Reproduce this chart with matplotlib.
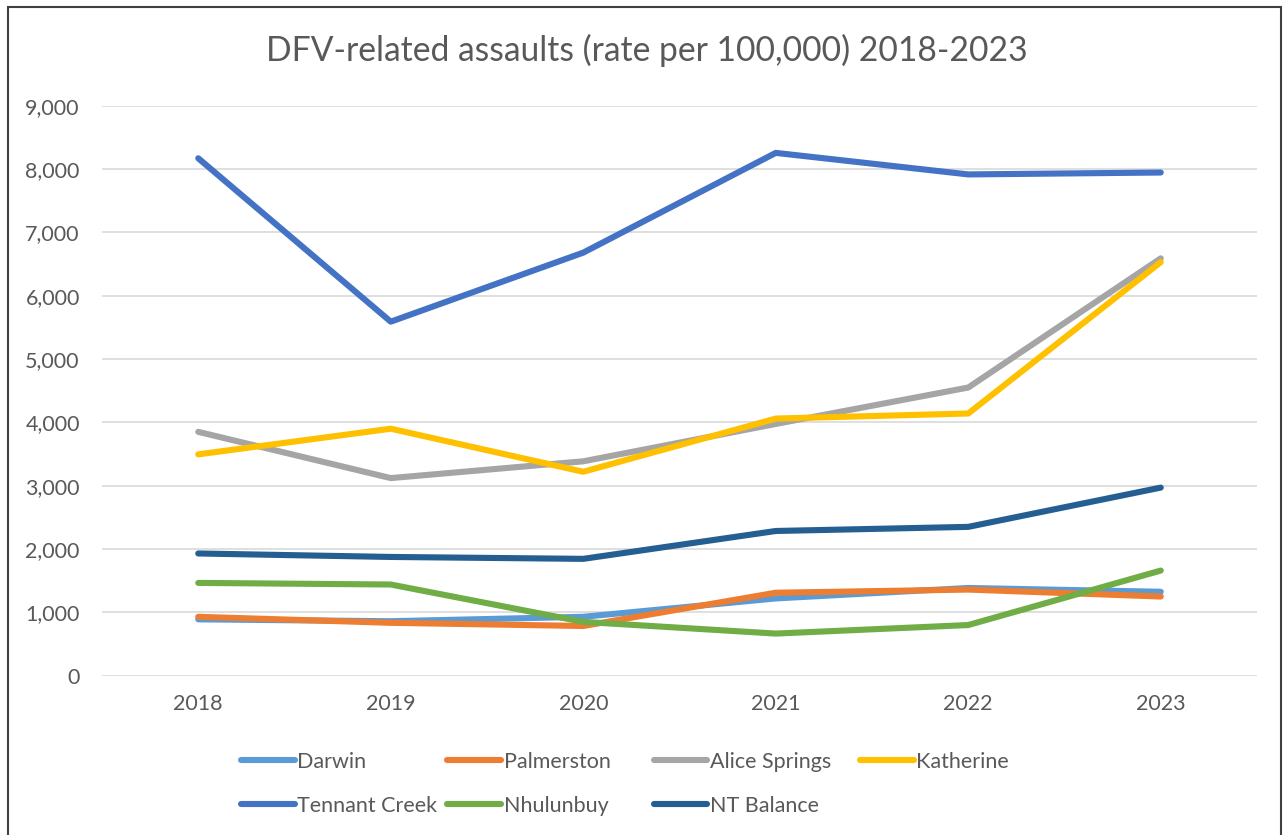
import numpy as np
import matplotlib
matplotlib.use('Agg')
import matplotlib.pyplot as plt
from matplotlib.lines import Line2D
from matplotlib.patches import Rectangle

plt.rcParams['font.family'] = ['Lato', 'DejaVu Sans']

years = ['2018', '2019', '2020', '2021', '2022', '2023']

# rate per 100,000 by region
darwin = [890, 860, 930, 1220, 1385, 1325]
palmerston = [930, 835, 785, 1310, 1360, 1250]
alice_springs = [3850, 3120, 3385, 3975, 4550, 6590]
katherine = [3495, 3900, 3220, 4060, 4140, 6530]
tennant_creek = [8170, 5590, 6680, 8255, 7915, 7945]
nhulunbuy = [1465, 1440, 850, 665, 800, 1660]
nt_balance = [1930, 1875, 1845, 2285, 2350, 2970]

series_names = ['Darwin', 'Palmerston', 'Alice Springs', 'Katherine',
                'Tennant Creek', 'Nhulunbuy', 'NT Balance']
series_data = [darwin, palmerston, alice_springs, katherine,
               tennant_creek, nhulunbuy, nt_balance]
series_colors = ['#5B9BD5', '#ED7D31', '#A5A5A5', '#FFC000',
                 '#4472C4', '#70AD47', '#255E91']

W, H = 1286, 835
fig = plt.figure(figsize=(W / 100, H / 100), dpi=100)
ax = fig.add_axes([102 / W, (H - 675.7) / H, (1257 - 102) / W, (675.7 - 105.7) / H])

x = np.arange(len(years))
lw = 4.4
for name, vals, col in zip(series_names, series_data, series_colors):
    ax.plot(x, vals, color=col, lw=lw, solid_capstyle='round',
            solid_joinstyle='round', label=name)

ax.set_xlim(-0.5, len(years) - 0.5)
ax.set_ylim(0, 9000)
ax.set_xticks(x)
ax.set_xticklabels(years)
ax.set_yticks(np.arange(0, 9001, 1000))
ax.yaxis.set_major_formatter(matplotlib.ticker.FuncFormatter(lambda v, p: f'{int(v):,}'))
ax.grid(axis='y', color='#D9D9D9', lw=1.2)
ax.set_axisbelow(True)
for s in ax.spines.values():
    s.set_visible(False)
ax.tick_params(axis='both', length=0, labelsize=15.5, colors='#595959')
ax.tick_params(axis='x', pad=13)
ax.tick_params(axis='y', pad=16)

fig.text(0.503, 1 - 50 / H, 'DFV-related assaults (rate per 100,000) 2018-2023',
         ha='center', va='center', fontsize=24.2, color='#595959')

# legend laid out as fixed-width columns, four per row
for i, (name, col) in enumerate(zip(series_names, series_colors)):
    row, c = divmod(i, 4)
    x0 = (241 + c * 206.3) / W
    y0 = 1 - (762 + row * 44) / H
    h = Line2D([], [], color=col, lw=lw, solid_capstyle='round')
    fig.legend(handles=[h], labels=[name], loc='center left',
               bbox_to_anchor=(x0, y0), frameon=False, fontsize=15.5,
               handlelength=2.5, handletextpad=0.12, borderpad=0,
               borderaxespad=0, labelcolor='#595959')

fig.patches.append(Rectangle((8 / W, -0.05), (1281 - 8) / W, 1.05 - 7 / H,
                             transform=fig.transFigure, fill=False,
                             edgecolor='#404040', lw=1.5))

fig.savefig('out.png', dpi=100)
